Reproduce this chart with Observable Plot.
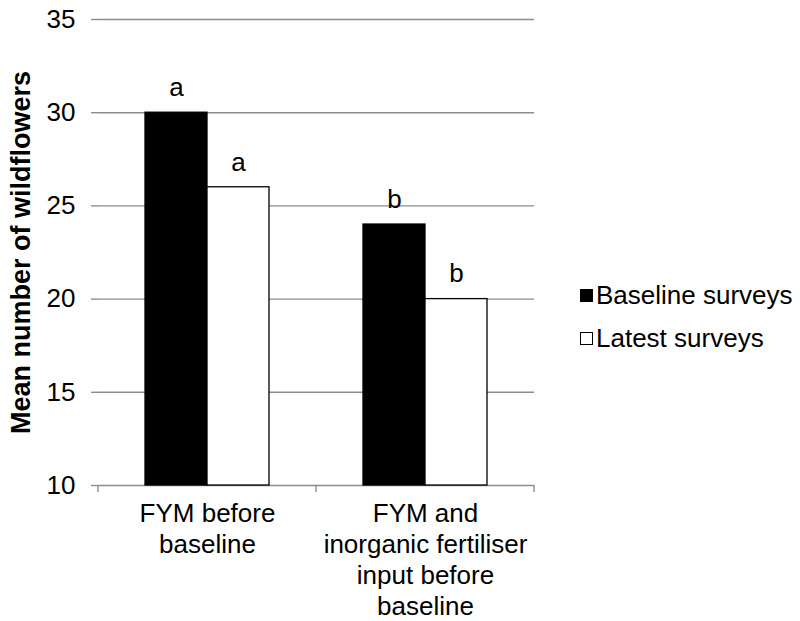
<!DOCTYPE html>
<html><head><meta charset="utf-8">
<script src="https://cdn.jsdelivr.net/npm/d3@7"></script>
<script src="https://cdn.jsdelivr.net/npm/@observablehq/plot@0.6"></script>
<style>
body{margin:0;background:#fff;}
#wrap{position:relative;width:800px;height:621px;font-family:"Liberation Sans",Arial,sans-serif;}
.leg{position:absolute;left:580px;font-size:26px;display:flex;align-items:center;white-space:nowrap;color:#000;}
.sw{width:13px;height:13px;margin-right:3px;box-sizing:border-box;border:1.3px solid #000;}
</style></head><body><div id="wrap"></div>
<script>
const categories = ["FYM before\nbaseline", "FYM and\ninorganic fertiliser\ninput before\nbaseline"];
const series = ["Baseline surveys", "Latest surveys"];
const baselineValues = [30, 24];
const latestValues = [26, 20];
const baselineLetters = ["a", "b"];
const latestLetters = ["a", "b"];
const yTicks = [10, 15, 20, 25, 30, 35];
const seriesFill = ["#000000", "#ffffff"];
const yTitle = "Mean number of wildflowers";

const data = categories.flatMap((c, i) => [
  {category: c, series: series[0], value: baselineValues[i], letter: baselineLetters[i]},
  {category: c, series: series[1], value: latestValues[i], letter: latestLetters[i]}
]);

const font = '"Liberation Sans", Arial, sans-serif';
const grid = "#8c8c8c";

const plot = Plot.plot({
  width: 800, height: 621,
  marginLeft: 98, marginRight: 266, marginTop: 19, marginBottom: 136,
  style: {fontFamily: font, background: "white", color: "black", overflow: "visible"},
  fx: {domain: categories, padding: 0, axis: null},
  x: {domain: series, paddingInner: 0, paddingOuter: 0.758, axis: null},
  y: {domain: [10, 35], axis: null},
  color: {domain: series, range: seriesFill},
  marks: [
    Plot.ruleY(yTicks, {y: d => d, stroke: grid, strokeWidth: 1.4}),
    Plot.axisY({ticks: yTicks, tickSize: 7, tickPadding: 16, fontSize: 26, stroke: grid, strokeWidth: 1.4, fill: "black", line: true, label: null}),
    Plot.barY(data, {fx: "category", x: "series", y1: 10, y2: "value", fill: "series", stroke: "#000", strokeWidth: 1.3}),
    Plot.text(data, {fx: "category", x: "series", y: "value", text: "letter", dy: -25, fontSize: 26, fill: "black"}),
    Plot.text(categories, {fx: d => d, text: d => d, frameAnchor: "bottom", textAnchor: "middle", lineAnchor: "top", dy: 15, fontSize: 26, lineHeight: 1.19, fill: "black"}),
    Plot.text([yTitle], {fx: () => categories[0], text: d => d, frameAnchor: "left", textAnchor: "middle", rotate: -90, dx: -77, fontSize: 27, fontWeight: "bold", fill: "black"})
  ]
});

document.getElementById("wrap").appendChild(plot);

// x-axis boundary ticks from the fx scale
const fx = plot.scale("fx");
const y = plot.scale("y");
const bounds = categories.map(c => fx.apply(c)).concat([fx.apply(categories[categories.length - 1]) + fx.bandwidth]);
const y0 = y.apply(10);
d3.select(plot).append("g")
  .selectAll("line").data(bounds).join("line")
  .attr("x1", d => d).attr("x2", d => d)
  .attr("y1", y0).attr("y2", y0 + 7)
  .attr("stroke", grid).attr("stroke-width", 1.4);

// legend
const wrap = document.getElementById("wrap");
series.forEach((s, i) => {
  const row = document.createElement("div");
  row.className = "leg";
  row.style.top = (i === 0 ? 280 : 323) + "px";
  const sw = document.createElement("div");
  sw.className = "sw";
  sw.style.background = seriesFill[i];
  row.appendChild(sw);
  const t = document.createElement("span");
  t.textContent = s;
  row.appendChild(t);
  wrap.appendChild(row);
});
</script>
</body></html>
